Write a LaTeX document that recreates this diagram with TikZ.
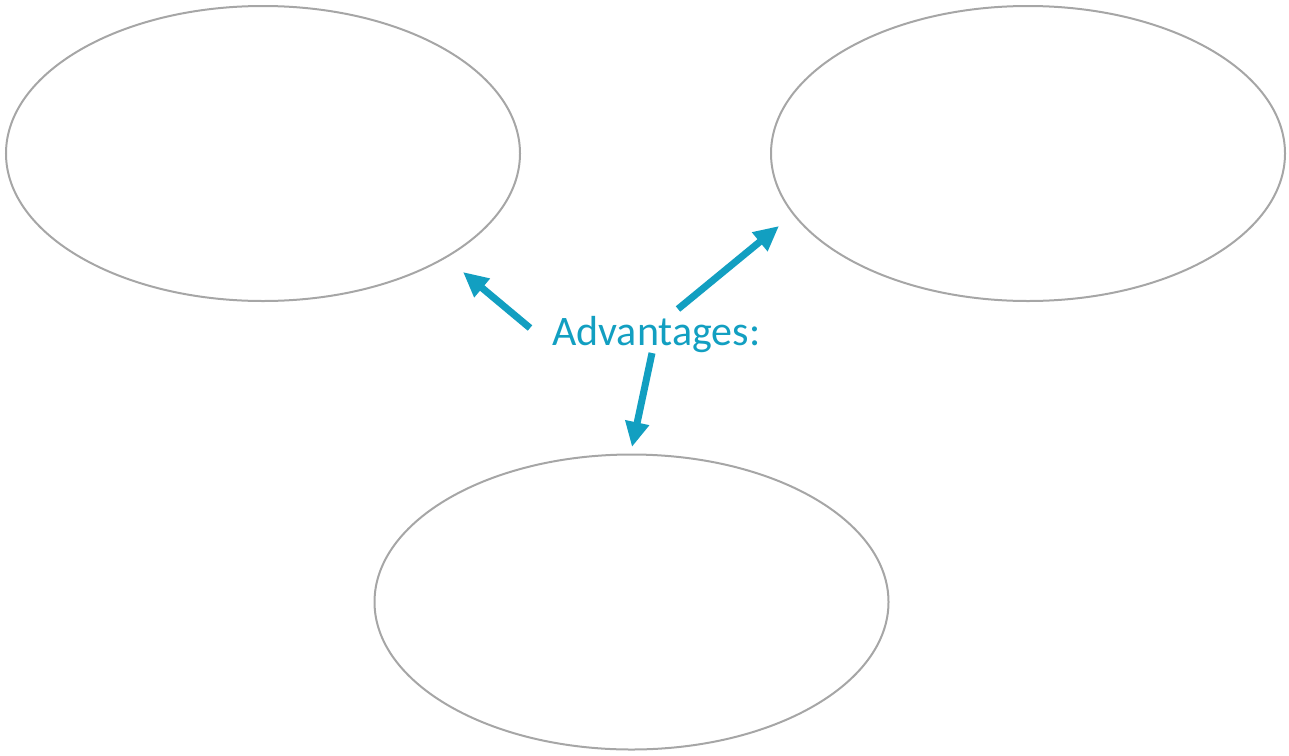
\documentclass[tikz,border=0pt]{standalone}
\usepackage{fontspec}
\setmainfont{Carlito}
\usetikzlibrary{shapes.geometric,arrows.meta}
\definecolor{teal}{RGB}{18,159,193}
\definecolor{ringgray}{RGB}{166,166,166}
\begin{document}
\begin{tikzpicture}[x=1pt,y=-1pt,
  ring/.style={draw=ringgray,line width=2pt,ellipse,inner sep=0pt,minimum width=514pt,minimum height=295pt},
  pointer/.style={draw=teal,line width=7pt,-{Triangle[length=25pt,width=23pt]}}]
\useasboundingbox (0,0) rectangle (1289,755);
\node[ring] (left) at (263,153.5) {};
\node[ring] (right) at (1028,153.5) {};
\node[ring] (bottom) at (631.5,602) {};
\node[text=teal,font=\fontsize{42}{48}\selectfont,inner sep=0pt,anchor=base west] (adv) at (552,345) {Advantages:};
\coordinate (t1) at (530,328);
\coordinate (h1) at (463,272);
\coordinate (t2) at (678,309);
\coordinate (h2) at (779,226);
\coordinate (t3) at (652,353);
\coordinate (h3) at (632,447);
\draw[pointer] (t1) -- (h1);
\draw[pointer] (t2) -- (h2);
\draw[pointer] (t3) -- (h3);
\end{tikzpicture}
\end{document}
